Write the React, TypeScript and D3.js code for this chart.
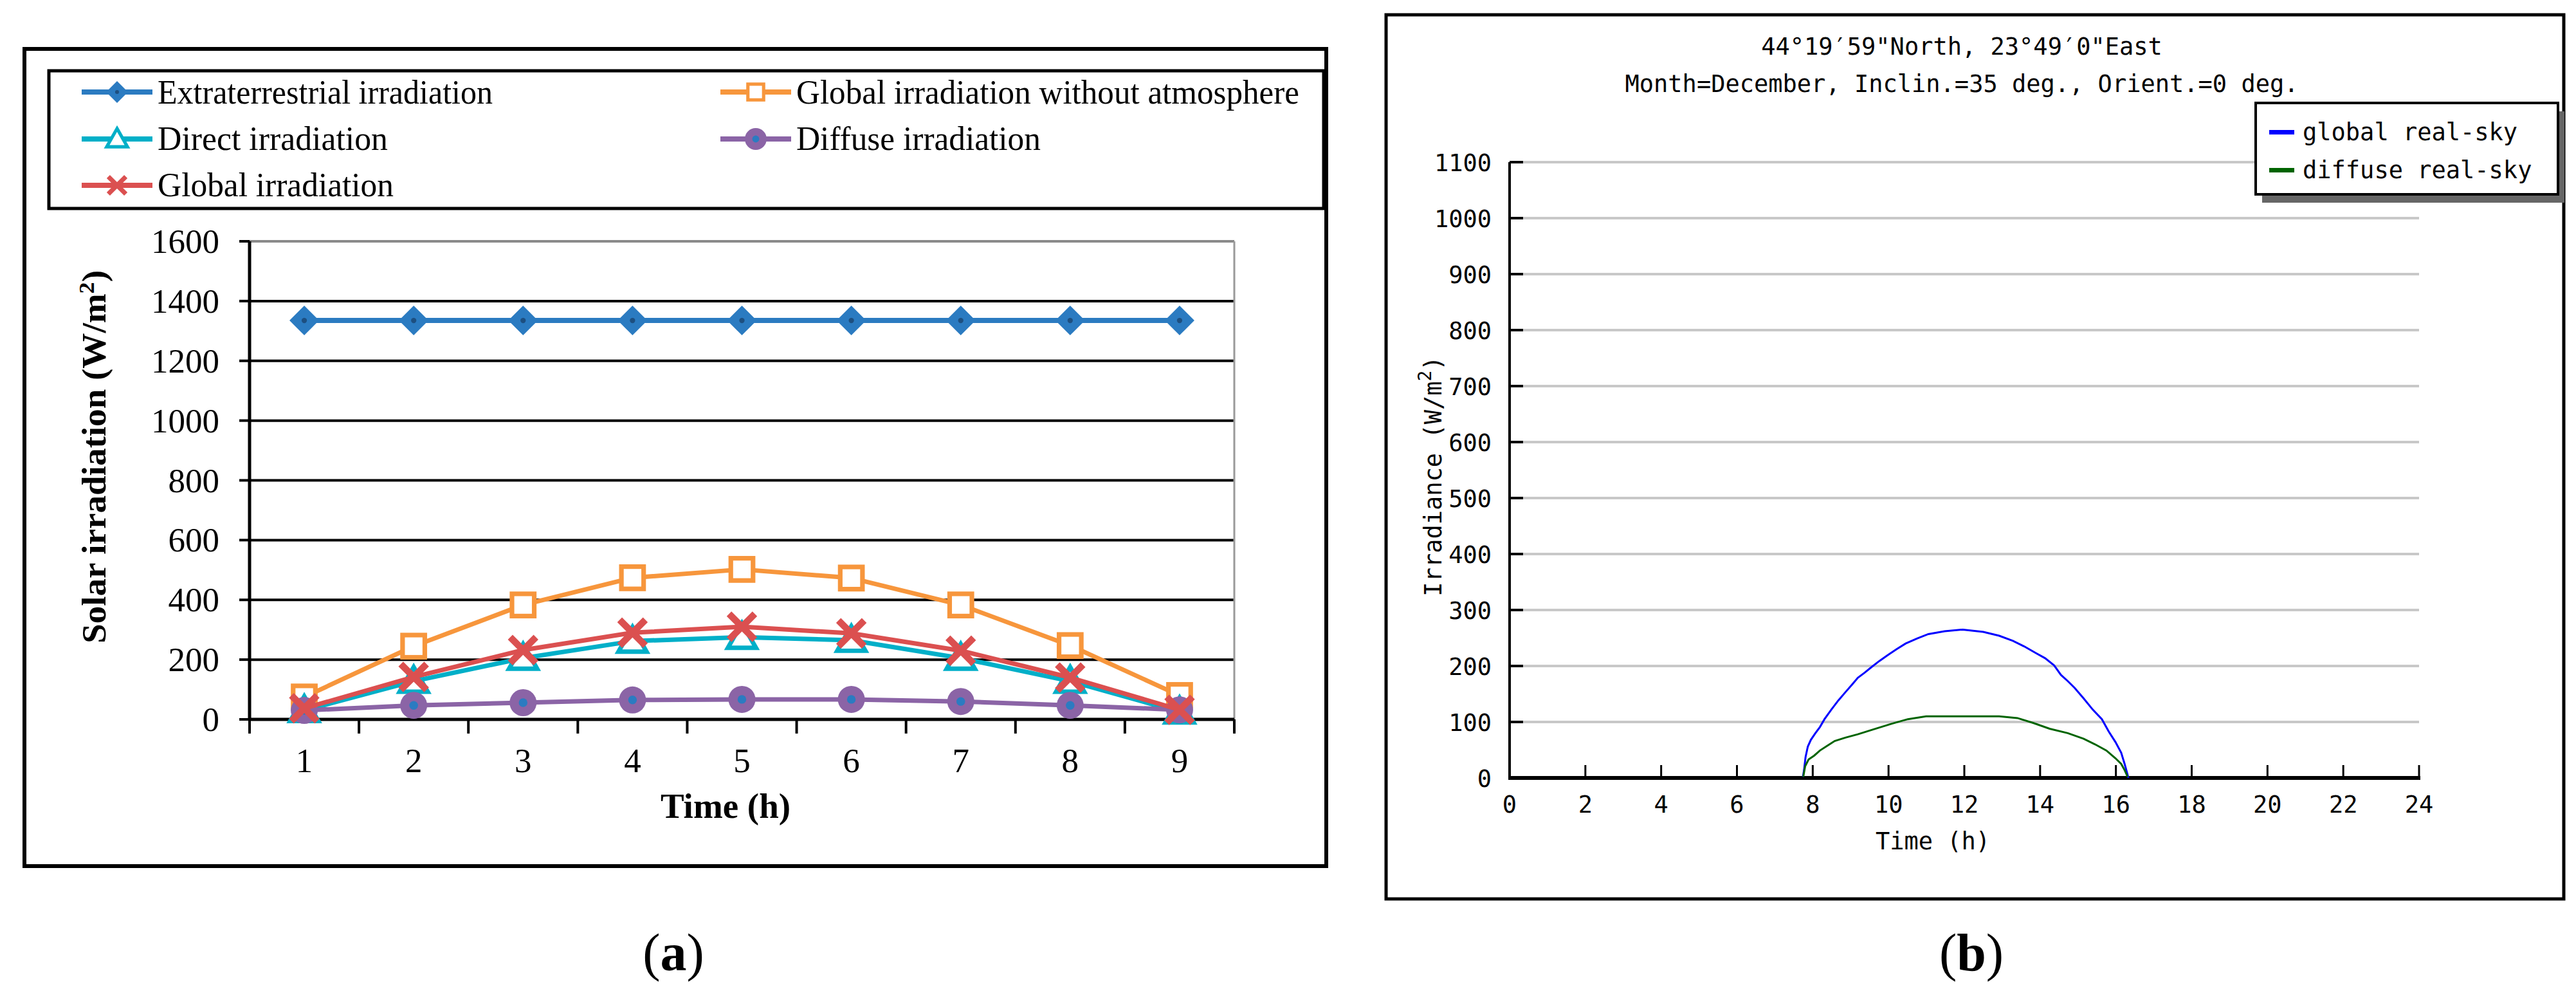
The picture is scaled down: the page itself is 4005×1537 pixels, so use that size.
import * as d3 from "d3";

// ---- panel (a) data ----
const hoursA = [1, 2, 3, 4, 5, 6, 7, 8, 9];
const extraterrestrial = [1335, 1335, 1335, 1335, 1335, 1335, 1335, 1335, 1335];
const globalNoAtm = [75, 245, 383, 474, 502, 473, 383, 247, 80];
const direct = [30, 128, 205, 262, 275, 265, 205, 128, 25];
const diffuse = [30, 47, 56, 65, 67, 67, 60, 47, 32];
const globalIrr = [37, 142, 232, 290, 310, 288, 230, 140, 32];
const yTicksA = [0, 200, 400, 600, 800, 1000, 1200, 1400, 1600];

// ---- panel (b) data ----
const hoursGlobal = [7.74, 7.77, 7.81, 7.87, 7.95, 8.07, 8.19, 8.31, 8.49, 8.67, 8.86, 9.04, 9.19, 9.37, 9.55, 9.76, 9.97, 10.21, 10.45, 10.75, 11.05, 11.48, 11.96, 12.5, 12.92, 13.28, 13.58, 13.89, 14.13, 14.37, 14.55, 14.73, 14.91, 15.15, 15.39, 15.63, 15.81, 15.99, 16.14, 16.23, 16.3, 16.33];
const globalSky = [2, 14, 37, 56, 68, 80, 91, 105, 122, 138, 153, 167, 179, 188, 198, 209, 219, 230, 240, 249, 257, 262, 265, 261, 254, 245, 235, 223, 214, 201, 184, 173, 161, 142, 122, 105, 83, 64, 45, 25, 8, 0];
const hoursDiffuse = [7.75, 7.8, 7.89, 8.04, 8.19, 8.37, 8.58, 8.86, 9.19, 9.61, 10.09, 10.51, 10.99, 11.96, 12.92, 13.4, 13.83, 14.25, 14.73, 15.15, 15.45, 15.75, 15.99, 16.14, 16.23, 16.31];
const diffuseSky = [2, 21, 33, 40, 49, 57, 66, 72, 78, 87, 97, 105, 110, 110, 110, 107, 98, 88, 80, 70, 60, 49, 35, 25, 14, 2];
const yTicksB = [0, 100, 200, 300, 400, 500, 600, 700, 800, 900, 1000, 1100];
const xTicksB = [0, 2, 4, 6, 8, 10, 12, 14, 16, 18, 20, 22, 24];

const serif = "'Liberation Serif', 'Times New Roman', serif";
const mono = "'DejaVu Sans Mono', 'Liberation Mono', monospace";

const C = {
  ext: "#2b7bc1",
  noAtm: "#f7963c",
  direct: "#00afc8",
  diffuse: "#8b64a6",
  glob: "#db5050",
};

type Kind = "diamond" | "square" | "triangle" | "circle" | "x";

function Marker({ kind, x, y, s, color }: { kind: Kind; x: number; y: number; s: number; color: string }) {
  if (kind === "diamond") {
    return (
      <g>
        <path d={`M${x},${y - s}L${x + s},${y}L${x},${y + s}L${x - s},${y}Z`} fill={color} />
        <circle cx={x} cy={y} r={s * 0.18} fill="#1d4f80" />
      </g>
    );
  }
  if (kind === "square") {
    const h = s * 0.72;
    return <rect x={x - h} y={y - h} width={2 * h} height={2 * h} fill="#fff" stroke={color} strokeWidth={s * 0.3} />;
  }
  if (kind === "triangle") {
    const h = s * 0.95;
    return (
      <path d={`M${x},${y - h}L${x + h},${y + h * 0.75}L${x - h},${y + h * 0.75}Z`} fill="#fff" stroke={color} strokeWidth={s * 0.3} strokeLinejoin="miter" />
    );
  }
  if (kind === "circle") {
    return (
      <g>
        <circle cx={x} cy={y} r={s} fill={color} />
        <circle cx={x} cy={y} r={s * 0.32} fill={C.ext} />
      </g>
    );
  }
  const h = s * 0.8;
  return <path d={`M${x - h},${y - h}L${x + h},${y + h}M${x - h},${y + h}L${x + h},${y - h}`} stroke={color} strokeWidth={s * 0.42} />;
}

function PanelA() {
  const x = d3.scaleBand<number>().domain(hoursA).range([388, 1919]);
  const y = d3.scaleLinear().domain([0, 1600]).range([1118, 375]);
  const cx = (h: number) => (x(h) as number) + x.bandwidth() / 2;
  const line = d3.line<number>().x((_, i) => cx(hoursA[i])).y((v) => y(v));

  const series: { name: string; values: number[]; color: string; kind: Kind; w: number; s: number }[] = [
    { name: "Extraterrestrial irradiation", values: extraterrestrial, color: C.ext, kind: "diamond", w: 8, s: 23 },
    { name: "Global irradiation without atmosphere", values: globalNoAtm, color: C.noAtm, kind: "square", w: 7, s: 24 },
    { name: "Direct irradiation", values: direct, color: C.direct, kind: "triangle", w: 7, s: 23 },
    { name: "Diffuse irradiation", values: diffuse, color: C.diffuse, kind: "circle", w: 7, s: 21 },
    { name: "Global irradiation", values: globalIrr, color: C.glob, kind: "x", w: 7, s: 25 },
  ];

  const legendPos = [
    { lx: 127, ty: 161, my: 143, tw: 521 },
    { lx: 1120, ty: 161, my: 143, tw: 782 },
    { lx: 127, ty: 233, my: 216, tw: 358 },
    { lx: 1120, ty: 233, my: 216, tw: 380 },
    { lx: 127, ty: 305, my: 288, tw: 367 },
  ];

  const bounds = x.domain().map((d) => x(d) as number).concat([1919]);

  return (
    <g>
      <rect x={38} y={76} width={2024} height={1270} fill="#fff" stroke="#000" strokeWidth={6} />
      {/* legend */}
      <rect x={76} y={110} width={1982} height={214} fill="#fff" stroke="#000" strokeWidth={5} />
      {series.map((s, i) => {
        const p = legendPos[i];
        return (
          <g key={s.name}>
            <line x1={p.lx} x2={p.lx + 110} y1={p.my} y2={p.my} stroke={s.color} strokeWidth={8} />
            <Marker kind={s.kind} x={p.lx + 55} y={p.my} s={17} color={s.color} />
            <text x={p.lx + 118} y={p.ty} fontFamily={serif} fontSize={53} textLength={p.tw} lengthAdjust="spacingAndGlyphs">
              {s.name}
            </text>
          </g>
        );
      })}

      {/* grid */}
      {yTicksA.slice(1, -1).map((t) => (
        <line key={t} x1={388} x2={1919} y1={y(t)} y2={y(t)} stroke="#000" strokeWidth={4} />
      ))}
      <line x1={388} x2={1919} y1={y(1600)} y2={y(1600)} stroke="#8a8a8a" strokeWidth={4} />
      <line x1={1919} x2={1919} y1={y(1600)} y2={y(0)} stroke="#9a9a9a" strokeWidth={3} />

      {/* axes */}
      <line x1={388} x2={388} y1={y(1600)} y2={y(0)} stroke="#000" strokeWidth={5} />
      <line x1={388} x2={1919} y1={y(0)} y2={y(0)} stroke="#000" strokeWidth={5} />
      {yTicksA.map((t) => (
        <g key={t}>
          <line x1={372} x2={388} y1={y(t)} y2={y(t)} stroke="#000" strokeWidth={4} />
          <text x={341} y={y(t) + 18} textAnchor="end" fontFamily={serif} fontSize={53}>
            {t}
          </text>
        </g>
      ))}
      {bounds.map((b, i) => (
        <line key={i} x1={b} x2={b} y1={y(0)} y2={y(0) + 22} stroke="#000" strokeWidth={4} />
      ))}
      {hoursA.map((h) => (
        <text key={h} x={cx(h)} y={1200} textAnchor="middle" fontFamily={serif} fontSize={53}>
          {h}
        </text>
      ))}
      <text x={1128} y={1271} textAnchor="middle" fontFamily={serif} fontSize={55} fontWeight="bold">
        Time (h)
      </text>
      <text transform="translate(164,710) rotate(-90)" textAnchor="middle" fontFamily={serif} fontSize={52} fontWeight="bold" textLength={580} lengthAdjust="spacingAndGlyphs">
        Solar irradiation  (W/m<tspan baselineShift="super" fontSize={34}>2</tspan>)
      </text>

      {/* series */}
      {series.map((s) => (
        <g key={s.name}>
          <path d={line(s.values) as string} fill="none" stroke={s.color} strokeWidth={s.w} strokeLinejoin="round" />
          {s.values.map((v, i) => (
            <Marker key={i} kind={s.kind} x={cx(hoursA[i])} y={y(v)} s={s.s} color={s.color} />
          ))}
        </g>
      ))}
    </g>
  );
}

function PanelB() {
  const x = d3.scaleLinear().domain([0, 24]).range([2347, 3761]);
  const y = d3.scaleLinear().domain([0, 1100]).range([1209, 252]);
  const mk = (hs: number[]) => d3.line<number>().x((_, i) => x(hs[i])).y((v) => y(v));

  return (
    <g>
      <rect x={2155} y={23} width={1831} height={1374} fill="#fff" stroke="#000" strokeWidth={5} />
      <text x={3050} y={85} textAnchor="middle" fontFamily={mono} fontSize={37}>
        44°19′59"North, 23°49′0"East
      </text>
      <text x={3050} y={143} textAnchor="middle" fontFamily={mono} fontSize={37}>
        Month=December, Inclin.=35 deg., Orient.=0 deg.
      </text>

      {/* grid */}
      {yTicksB.slice(1).map((t) => (
        <g key={t}>
          <line x1={2347} x2={3761} y1={y(t)} y2={y(t)} stroke="#c8c8c8" strokeWidth={4} />
          <line x1={2347} x2={2368} y1={y(t)} y2={y(t)} stroke="#000" strokeWidth={4} />
        </g>
      ))}
      {yTicksB.map((t) => (
        <text key={t} x={2319} y={y(t) + 14} textAnchor="end" fontFamily={mono} fontSize={37}>
          {t}
        </text>
      ))}
      <line x1={2347} x2={2347} y1={y(1100)} y2={y(0)} stroke="#000" strokeWidth={4} />
      <line x1={2345} x2={3763} y1={y(0)} y2={y(0)} stroke="#000" strokeWidth={6} />
      {xTicksB.map((t) => (
        <g key={t}>
          {t > 0 && <line x1={x(t)} x2={x(t)} y1={y(0)} y2={y(0) - 20} stroke="#000" strokeWidth={3} />}
          <text x={x(t)} y={1263} textAnchor="middle" fontFamily={mono} fontSize={37}>
            {t}
          </text>
        </g>
      ))}
      <text x={3005} y={1320} textAnchor="middle" fontFamily={mono} fontSize={37}>
        Time (h)
      </text>
      <text transform="translate(2241,740) rotate(-90)" textAnchor="middle" fontFamily={mono} fontSize={37}>
        Irradiance (W/m<tspan baselineShift="super" fontSize={28}>2</tspan>)
      </text>

      {/* curves */}
      <path d={mk(hoursGlobal)(globalSky) as string} fill="none" stroke="#0000ff" strokeWidth={3} />
      <path d={mk(hoursDiffuse)(diffuseSky) as string} fill="none" stroke="#006400" strokeWidth={3} />

      {/* legend */}
      <rect x={3517} y={173} width={470} height={142} fill="#666" />
      <rect x={3507} y={160} width={470} height={142} fill="#fff" stroke="#000" strokeWidth={4} />
      <rect x={3528} y={202} width={39} height={7} fill="#0000ff" />
      <text x={3580} y={218} fontFamily={mono} fontSize={37}>
        global real-sky
      </text>
      <rect x={3528} y={261} width={39} height={7} fill="#006400" />
      <text x={3580} y={277} fontFamily={mono} fontSize={37}>
        diffuse real-sky
      </text>
    </g>
  );
}

export default function App() {
  return (
    <svg width={4005} height={1537} style={{ position: "absolute", left: 0, top: 0, background: "#fff" }}>
      <rect width={4005} height={1537} fill="#fff" />
      <PanelA />
      <PanelB />
      <text x={1047} y={1508} textAnchor="middle" fontFamily={serif} fontSize={82}>
        (<tspan fontWeight="bold">a</tspan>)
      </text>
      <text x={3065} y={1508} textAnchor="middle" fontFamily={serif} fontSize={82}>
        (<tspan fontWeight="bold">b</tspan>)
      </text>
    </svg>
  );
}
